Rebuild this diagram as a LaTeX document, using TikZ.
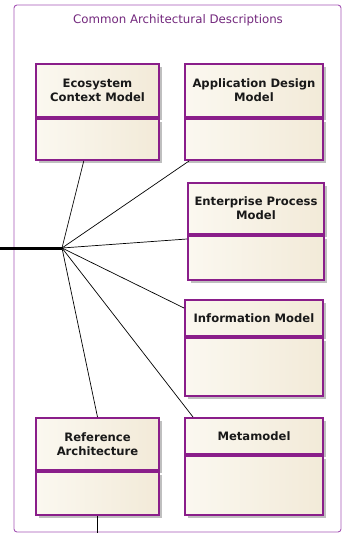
\documentclass[tikz,border=0pt]{standalone}
\usepackage{fontspec}
\setmainfont{DejaVu Sans}
\usetikzlibrary{positioning,calc,shadows}
\definecolor{FramePurple}{RGB}{165,85,180}
\definecolor{BoxPurple}{RGB}{138,30,138}
\definecolor{BoxFill}{RGB}{242,234,216}
\definecolor{BoxLight}{RGB}{251,248,240}
\definecolor{TitlePurple}{RGB}{115,40,125}
\tikzset{
  frame/.style={draw=FramePurple,line width=0.9pt,rounded corners=3pt},
  head/.style={draw=BoxPurple,line width=2pt,left color=BoxLight,right color=BoxFill,
    anchor=north west,align=center,inner sep=1pt,text=black!90,
    font=\fontsize{11.6}{14}\selectfont\bfseries,
    drop shadow={shadow xshift=2.5pt,shadow yshift=-2.5pt,fill=black,opacity=0.25}},
  body/.style={draw=BoxPurple,line width=2pt,left color=BoxLight,right color=BoxFill,
    anchor=north,inner sep=0pt,
    drop shadow={shadow xshift=2.5pt,shadow yshift=-2.5pt,fill=black,opacity=0.25}},
  link/.style={draw=black,line width=0.7pt},
  bus/.style={draw=black,line width=3pt}
}
\begin{document}
\begin{tikzpicture}[x=1pt,y=-1pt]
  \useasboundingbox (0,0) rectangle (343,533);
  % package frame
  \draw[frame] (14,5) rectangle (341,532);
  \node[font=\fontsize{11.8}{14}\selectfont,text=TitlePurple] (title) at (178,20) {Common Architectural Descriptions};
  % model elements
  \node[head,minimum width=123pt,minimum height=53pt] (eco) at (35,63) {Ecosystem\\Context Model};
  \node[body,minimum width=123pt,minimum height=41pt] (ecob) at (eco.south) {};
  \node[head,minimum width=138pt,minimum height=53pt] (app) at (184,63) {Application Design\\Model};
  \node[body,minimum width=138pt,minimum height=41pt] (appb) at (app.south) {};
  \node[head,minimum width=136pt,minimum height=51pt] (ent) at (187,182) {Enterprise Process\\Model};
  \node[body,minimum width=136pt,minimum height=44pt] (entb) at (ent.south) {};
  \node[head,minimum width=138pt,minimum height=36pt] (info) at (184,299) {Information Model};
  \node[body,minimum width=138pt,minimum height=58pt] (infob) at (info.south) {};
  \node[head,minimum width=123pt,minimum height=52pt] (ref) at (35,417) {Reference\\Architecture};
  \node[body,minimum width=123pt,minimum height=43pt] (refb) at (ref.south) {};
  \node[head,minimum width=138pt,minimum height=36pt] (meta) at (184,417) {Metamodel};
  \node[body,minimum width=138pt,minimum height=59pt] (metab) at (meta.south) {};
  % connectors
  \coordinate (hub) at (62,248);
  \coordinate (west) at (0,248);
  \coordinate (down) at (97,533);
  \draw[bus] (west) -- (hub);
  \draw[link] (hub) -- ($(ecob.south west)!0.39!(ecob.south east)$);
  \draw[link] (hub) -- ($(appb.south west)+(5,0)$);
  \draw[link] (hub) -- ($(entb.north west)+(0,4)$);
  \draw[link] (hub) -- ($(info.north west)+(0,9)$);
  \draw[link] (hub) -- ($(meta.north west)+(9,0)$);
  \draw[link] (hub) -- ($(ref.north west)!0.5!(ref.north east)$);
  \draw[link] (refb.south) ++(-0.5,0) -- (down);
\end{tikzpicture}
\end{document}
